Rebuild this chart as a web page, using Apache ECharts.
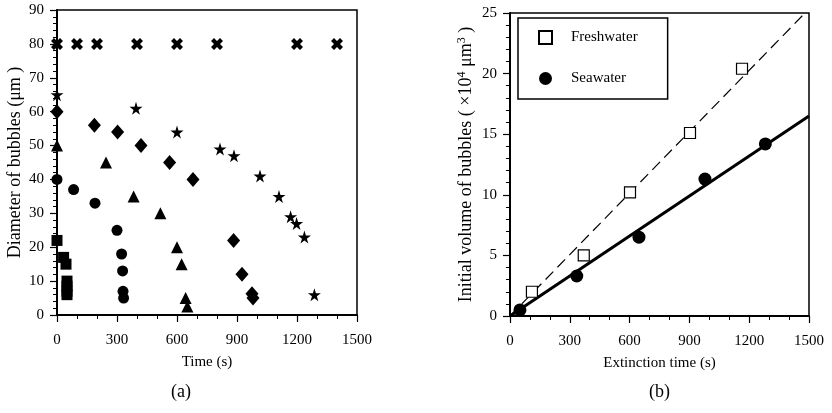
<!DOCTYPE html>
<html>
<head>
<meta charset="utf-8">
<script src="https://cdn.jsdelivr.net/npm/echarts@6/dist/echarts.min.js"></script>
<style>
  html, body { margin: 0; padding: 0; background: #fff; }
  #chart { width: 832px; height: 413px; }
</style>
</head>
<body>
<div id="chart"></div>
<script>
// panel (a): diameter of bubbles vs time, one list per marker shape
var crossPts = [[0, 80], [100, 80], [200, 80], [400, 80], [600, 80], [800, 80], [1200, 80], [1400, 80]];
var starPts = [[0, 65], [395, 61], [600, 54], [815, 49], [885, 47], [1015, 41], [1110, 35], [1168, 29], [1198, 27], [1237, 23], [1287, 6]];
var diamondPts = [[0, 60], [187, 56], [303, 54], [420, 50], [563, 45], [680, 40], [883, 22], [925, 12], [975, 6.3], [980, 5]];
var trianglePts = [[0, 50], [245, 45], [383, 35], [517, 30], [600, 20], [623, 15], [643, 5], [652, 2.5]];
var circlePts = [[0, 40], [83, 37], [190, 33], [300, 25], [323, 18], [328, 13], [330, 7], [333, 5]];
var squarePts = [[0, 22], [33, 17], [45, 15], [50, 10], [50, 8.5], [50, 7], [50, 6]];

// panel (b): initial volume vs extinction time
var freshTime = [110, 370, 602, 903, 1164];
var freshVol = [2.0, 5.0, 10.2, 15.1, 20.4];
var seaTime = [50, 335, 647, 978, 1281];
var seaVol = [0.5, 3.3, 6.5, 11.3, 14.2];
var freshFit = [[0, 0], [1480, 25]];
var seaFit = [[0, 0], [1500, 16.5]];

var xTicks = [0, 300, 600, 900, 1200, 1500];

var FONT = 'Liberation Serif';
var STAR = 'path://M50,0 L61,35 L98,35 L68,57 L79,91 L50,70 L21,91 L32,57 L2,35 L39,35 Z';
var CROSS = 'path://M0,2.5 L2.5,0 L5,2.5 L7.5,0 L10,2.5 L7.5,5 L10,7.5 L7.5,10 L5,7.5 L2.5,10 L0,7.5 L2.5,5 Z';

function zip(a, b) {
  return a.map(function (v, i) { return [v, b[i]]; });
}

function xAxisOf(idx, name) {
  return {
    gridIndex: idx, type: 'value', min: 0, max: 1500, interval: 300,
    name: name, nameLocation: 'middle', nameGap: 40,
    nameTextStyle: { fontFamily: FONT, fontSize: 15, color: '#000' },
    axisLine: { lineStyle: { color: '#000', width: 2 } },
    axisTick: { length: 7, lineStyle: { color: '#000', width: 1.2 } },
    minorTick: { show: true, splitNumber: 3, length: 4, lineStyle: { color: '#000', width: 1 } },
    axisLabel: { margin: 18, fontFamily: FONT, fontSize: 15, color: '#000',
      formatter: function (v) { return xTicks.indexOf(v) >= 0 ? String(v) : ''; } },
    splitLine: { show: false }
  };
}

function yAxisOf(idx, max, step, name, gap) {
  return {
    gridIndex: idx, type: 'value', min: 0, max: max, interval: step,
    name: name, nameLocation: 'middle', nameGap: gap, nameRotate: 90,
    nameTextStyle: { fontFamily: FONT, fontSize: 18, color: '#000',
      rich: { sup: { fontFamily: FONT, fontSize: 12, color: '#000', verticalAlign: 'top', padding: [0, 0, 8, 0] } } },
    axisLine: { lineStyle: { color: '#000', width: 2 } },
    axisTick: { length: 7, lineStyle: { color: '#000', width: 1.2 } },
    minorTick: { show: true, splitNumber: 5, length: 4, lineStyle: { color: '#000', width: 1 } },
    axisLabel: { margin: 13, fontFamily: FONT, fontSize: 15, color: '#000' },
    splitLine: { show: false }
  };
}

function dots(data, symbol, size, xi) {
  return {
    type: 'scatter', xAxisIndex: xi, yAxisIndex: xi, data: data,
    symbol: symbol, symbolSize: size, itemStyle: { color: '#000', opacity: 1 }, silent: true
  };
}

var chart = echarts.init(document.getElementById('chart'), null, { renderer: 'canvas' });

var option = {
  backgroundColor: '#fff',
  animation: false,
  grid: [
    { left: 57, top: 10, width: 300, height: 305, show: true, borderColor: '#000', borderWidth: 1.5 },
    { left: 510, top: 13, width: 299, height: 303, show: true, borderColor: '#000', borderWidth: 1.5 }
  ],
  xAxis: [xAxisOf(0, 'Time (s)'), xAxisOf(1, 'Extinction time (s)')],
  yAxis: [
    yAxisOf(0, 90, 10, 'Diameter of bubbles (μm )', 33),
    yAxisOf(1, 25, 5, 'Initial volume of bubbles ( ×10{sup|4} μm{sup|3} )', 34)
  ],
  legend: {
    orient: 'vertical', left: 518, top: 18,
    padding: [12, 30, 13, 20], itemGap: 26, itemWidth: 13, itemHeight: 13,
    borderColor: '#000', borderWidth: 1.5,
    textStyle: { fontFamily: FONT, fontSize: 15, color: '#000', padding: [0, 0, 0, 14] },
    data: ['Freshwater', 'Seawater']
  },
  series: [
    dots(crossPts, CROSS, 12, 0),
    dots(starPts, STAR, 13, 0),
    dots(diamondPts, 'diamond', [13, 15], 0),
    dots(trianglePts, 'triangle', 12, 0),
    dots(circlePts, 'circle', 11, 0),
    dots(squarePts, 'rect', 11, 0),
    {
      name: 'fresh fit', type: 'line', xAxisIndex: 1, yAxisIndex: 1, data: freshFit,
      symbol: 'none', lineStyle: { color: '#000', width: 1.2, type: [11, 6] }, silent: true
    },
    {
      name: 'sea fit', type: 'line', xAxisIndex: 1, yAxisIndex: 1, data: seaFit,
      symbol: 'none', lineStyle: { color: '#000', width: 3 }, silent: true
    },
    {
      name: 'Freshwater', type: 'scatter', xAxisIndex: 1, yAxisIndex: 1, data: zip(freshTime, freshVol),
      symbol: 'rect', symbolSize: 11, z: 5,
      itemStyle: { color: '#fff', borderColor: '#000', borderWidth: 1.2, opacity: 1 }
    },
    {
      name: 'Seawater', type: 'scatter', xAxisIndex: 1, yAxisIndex: 1, data: zip(seaTime, seaVol),
      symbol: 'circle', symbolSize: 13, z: 5, itemStyle: { color: '#000', opacity: 1 }
    }
  ],
  graphic: [
    { type: 'text', left: 171, top: 383, style: { text: '(a)', font: '18px "Liberation Serif"', fill: '#000' } },
    { type: 'text', left: 649, top: 383, style: { text: '(b)', font: '18px "Liberation Serif"', fill: '#000' } }
  ]
};

chart.setOption(option);
</script>
</body>
</html>
